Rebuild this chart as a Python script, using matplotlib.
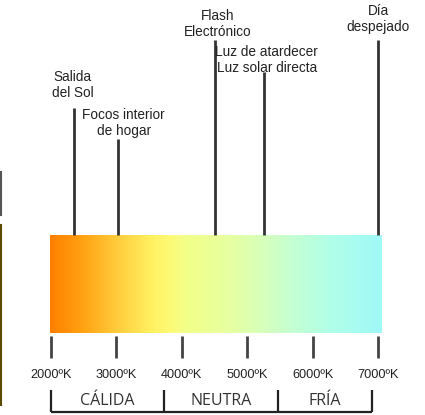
import numpy as np
import matplotlib.pyplot as plt
from matplotlib.colors import LinearSegmentedColormap
from matplotlib.lines import Line2D

# temperature scale ticks
tick_temps = [2000, 3000, 4000, 5000, 6000, 7000]
tick_labels = ["2000ºK", "3000ºK", "4000ºK", "5000ºK", "6000ºK", "7000ºK"]

# light sources (Kelvin) with labels
source_temps = [2350, 3020, 4500, 5250, 7000]
source_labels = ["Salida\ndel Sol", "Focos interior\nde hogar", "Flash\nElectrónico",
                 "Luz de atardecer\nLuz solar directa", "Día\ndespejado"]

# zones
zone_edges = [2000, 3730, 5470, 6910]
zone_names = ["CÁLIDA", "NEUTRA", "FRÍA"]

# gradient colours along the temperature scale
grad_temps = [1985, 2450, 3060, 3520, 3750, 4050, 4750, 5200, 5660, 6270, 7060]
grad_colors = ["#ff8000", "#ffa010", "#ffd040", "#fff060", "#fff870", "#f3ff88",
               "#e6ffa2", "#d8ffb8", "#c6ffd2", "#b0ffe8", "#a0f8f8"]

fig = plt.figure(figsize=(4.25, 4.15), dpi=100)
ax = fig.add_axes([0, 0, 1, 1])
x0 = 2000 - 51 / 65.4 * 1000
ax.set_xlim(x0, x0 + 425 / 65.4 * 1000)
ax.set_ylim(415, 0)
ax.axis("off")

# gradient bar
pos = [(t - grad_temps[0]) / (grad_temps[-1] - grad_temps[0]) for t in grad_temps]
cmap = LinearSegmentedColormap.from_list("kelvin", list(zip(pos, grad_colors)))
grad = np.linspace(0, 1, 512).reshape(1, -1)
ax.imshow(grad, cmap=cmap, aspect="auto",
          extent=[grad_temps[0], grad_temps[-1], 333, 235], zorder=1)

# ticks under the bar
ax.vlines(tick_temps, 336, 358, color="#444444", lw=2)
for t, lab in zip(tick_temps, tick_labels):
    ax.text(t, 375, lab, ha="center", va="center", fontsize=9.2,
            family="Liberation Sans", color="#222222")

# light source markers
tops = [108, 139, 40, 72, 40]
for t, top, lab in zip(source_temps, tops, source_labels):
    ax.vlines(t, top, 235, color="#333333", lw=2, zorder=2)
xs = [2330, 3110, 4550, 5300, 7000]
ys = [85, 123, 24, 60, 19]
for x, y, lab in zip(xs, ys, source_labels):
    ax.text(x, y, lab, ha="center", va="center", fontsize=9.8,
            family="Liberation Sans", color="#222222", linespacing=1.1)

# zone brackets
ax.vlines(zone_edges, 390, 412, color="#222222", lw=1.6)
ax.hlines(412, zone_edges[0], zone_edges[-1], color="#222222", lw=1.6)
for a, b, name in zip(zone_edges[:-1], zone_edges[1:], zone_names):
    ax.text((a + b) / 2, 401, name, ha="center", va="center", fontsize=11.5,
            family="Open Sans", color="#333333")

# edge artifacts on the left
fig.add_artist(Line2D([0.002, 0.002], [1 - 172 / 415, 1 - 215 / 415],
                      color="#555555", lw=1.5))
fig.add_artist(Line2D([0.002, 0.002], [1 - 225 / 415, 1 - 405 / 415],
                      color="#5a4a00", lw=1.5))

fig.savefig("out.png", dpi=100)
